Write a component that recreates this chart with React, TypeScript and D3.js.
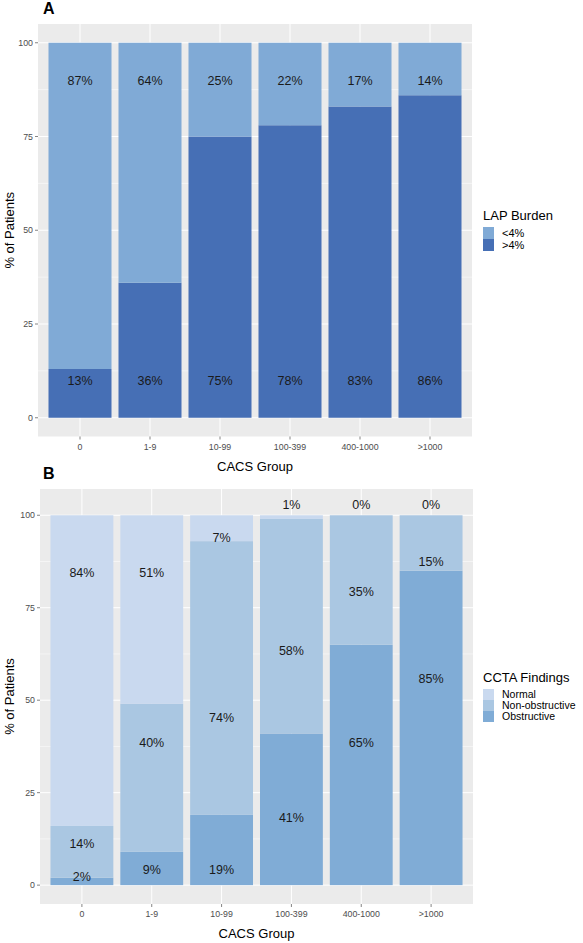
import React from "react";
import * as d3 from "d3";

const categories = ["0", "1-9", "10-99", "100-399", "400-1000", ">1000"];

// Panel A: LAP Burden
const lapSeries = ["<4%", ">4%"];
const lapHigh = [13, 36, 75, 78, 83, 86]; // >4%
const lapLow = [87, 64, 25, 22, 17, 14]; // <4%
const lapLowLabelY = [90, 90, 90, 90, 90, 90];
const lapHighLabelY = [10, 10, 10, 10, 10, 10];

// Panel B: CCTA Findings
const cctaSeries = ["Normal", "Non-obstructive", "Obstructive"];
const obstructive = [2, 9, 19, 41, 65, 85];
const nonObstructive = [14, 40, 74, 58, 35, 15];
const normal = [84, 51, 7, 1, 0, 0];
const normalLabelY = [84.5, 84.5, 94, 102.8, 102.8, 102.8];
const nonObsLabelY = [11.2, 38.4, 45.4, 63.5, 79.4, 87.5];
const obsLabelY = [2.3, 4.2, 4.2, 18.2, 38.4, 55.7];

const yTicks = [0, 25, 50, 75, 100];
const yMinor = [12.5, 37.5, 62.5, 87.5];

const FONT = "'Liberation Sans', Arial, Helvetica, sans-serif";

type Seg = { y0: number; y1: number; color: string };
type Lab = { y: number; text: string };

function Panel(props: {
  top: number;
  bottom: number;
  left: number;
  right: number;
  domain: [number, number];
  stacks: Seg[][];
  labels: Lab[][];
  letter: string;
  legendTitle: string;
  legendItems: { name: string; color: string }[];
  legendTop: number;
  legendFont: number;
  keyH: number;
}) {
  const { top, bottom, left, right, domain, stacks, labels } = props;
  const n = categories.length;
  const step = (right - left) / (n - 1 + 1.2);
  const x = d3
    .scalePoint<string>()
    .domain(categories)
    .range([left + 0.6 * step, right - 0.6 * step]);
  const cx = (i: number) => x(categories[i]) as number;
  const bw = step * 0.9;
  const y = d3.scaleLinear().domain(domain).range([bottom, top]);
  return (
    <g>
      <text x={43} y={top - 10} fontFamily={FONT} fontWeight="bold" fontSize={16} fill="#000">{props.letter}</text>
      <rect x={left} y={top} width={right - left} height={bottom - top} fill="#EBEBEB" />
      {yMinor.map((t) => (
        <line key={"m" + t} x1={left} x2={right} y1={y(t)} y2={y(t)} stroke="#fff" strokeWidth={0.5} />
      ))}
      {yTicks.map((t) => (
        <line key={"g" + t} x1={left} x2={right} y1={y(t)} y2={y(t)} stroke="#fff" strokeWidth={1} />
      ))}
      {categories.map((c, i) => (
        <line key={"v" + c} x1={cx(i)} x2={cx(i)} y1={top} y2={bottom} stroke="#fff" strokeWidth={1} />
      ))}
      {stacks.map((segs, i) =>
        segs.map((s, j) => (
          <rect key={i + "-" + j} x={cx(i) - bw / 2} width={bw} y={y(s.y1)} height={Math.max(0, y(s.y0) - y(s.y1))} fill={s.color} />
        ))
      )}
      {labels.map((ls, i) =>
        ls.map((l, j) => (
          <text key={"l" + i + "-" + j} x={cx(i)} y={y(l.y)} dy="0.35em" textAnchor="middle" fontFamily={FONT} fontSize={12.5} fill="#1a1a1a">{l.text}</text>
        ))
      )}
      {yTicks.map((t) => (
        <g key={"yt" + t}>
          <line x1={left - 3} x2={left} y1={y(t)} y2={y(t)} stroke="#333" strokeWidth={0.6} />
          <text x={left - 5} y={y(t)} dy="0.35em" textAnchor="end" fontFamily={FONT} fontSize={8.8} fill="#4D4D4D">{t}</text>
        </g>
      ))}
      {categories.map((c, i) => (
        <g key={"xt" + c}>
          <line x1={cx(i)} x2={cx(i)} y1={bottom} y2={bottom + 3} stroke="#333" strokeWidth={0.6} />
          <text x={cx(i)} y={bottom + 13} textAnchor="middle" fontFamily={FONT} fontSize={8.8} fill="#4D4D4D">{c}</text>
        </g>
      ))}
      <text x={(left + right) / 2} y={bottom + 34} textAnchor="middle" fontFamily={FONT} fontSize={13} fill="#000">CACS Group</text>
      <text transform={`translate(14,${(top + bottom) / 2}) rotate(-90)`} textAnchor="middle" fontFamily={FONT} fontSize={13} fill="#000">% of Patients</text>
      <text x={483} y={props.legendTop} fontFamily={FONT} fontSize={13} fill="#000">{props.legendTitle}</text>
      {props.legendItems.map((it, k) => (
        <g key={"lg" + k}>
          <rect x={483} y={props.legendTop + 7 + k * props.keyH} width={11} height={props.keyH} fill={it.color} />
          <text x={502} y={props.legendTop + 7 + k * props.keyH + props.keyH / 2} dy="0.35em" fontFamily={FONT} fontSize={props.legendFont} fill="#000">{it.name}</text>
        </g>
      ))}
    </g>
  );
}

export default function App() {
  const cLow = "#80AAD6";
  const cHigh = "#466FB5";
  const cNormal = "#C9D9EF";
  const cNonObs = "#AAC7E2";
  const cObs = "#80ACD6";

  const stacksA: Seg[][] = categories.map((_, i) => [
    { y0: 0, y1: lapHigh[i], color: cHigh },
    { y0: lapHigh[i], y1: lapHigh[i] + lapLow[i], color: cLow },
  ]);
  const labelsA: Lab[][] = categories.map((_, i) => [
    { y: lapLowLabelY[i], text: lapLow[i] + "%" },
    { y: lapHighLabelY[i], text: lapHigh[i] + "%" },
  ]);
  const stacksB: Seg[][] = categories.map((_, i) => {
    const a = obstructive[i];
    const b = a + nonObstructive[i];
    const c = b + normal[i];
    return [
      { y0: 0, y1: a, color: cObs },
      { y0: a, y1: b, color: cNonObs },
      { y0: b, y1: c, color: cNormal },
    ];
  });
  const labelsB: Lab[][] = categories.map((_, i) => [
    { y: normalLabelY[i], text: normal[i] + "%" },
    { y: nonObsLabelY[i], text: nonObstructive[i] + "%" },
    { y: obsLabelY[i], text: obstructive[i] + "%" },
  ]);

  return (
    <svg width={583} height={943} style={{ position: "absolute", left: 0, top: 0, background: "#fff" }}>
      <rect width={583} height={943} fill="#fff" />
      <Panel
        top={24}
        bottom={436.5}
        left={38}
        right={472}
        domain={[-5, 105]}
        stacks={stacksA}
        labels={labelsA}
        letter="A"
        legendTitle="LAP Burden"
        legendItems={[
          { name: lapSeries[0], color: cLow },
          { name: lapSeries[1], color: cHigh },
        ]}
        legendTop={220}
        legendFont={11}
        keyH={12}
      />
      <Panel
        top={489}
        bottom={904}
        left={40}
        right={473}
        domain={[-5.1, 107.1]}
        stacks={stacksB}
        labels={labelsB}
        letter="B"
        legendTitle="CCTA Findings"
        legendItems={[
          { name: cctaSeries[0], color: cNormal },
          { name: cctaSeries[1], color: cNonObs },
          { name: cctaSeries[2], color: cObs },
        ]}
        legendTop={682}
        legendFont={10.5}
        keyH={11}
      />
    </svg>
  );
}
